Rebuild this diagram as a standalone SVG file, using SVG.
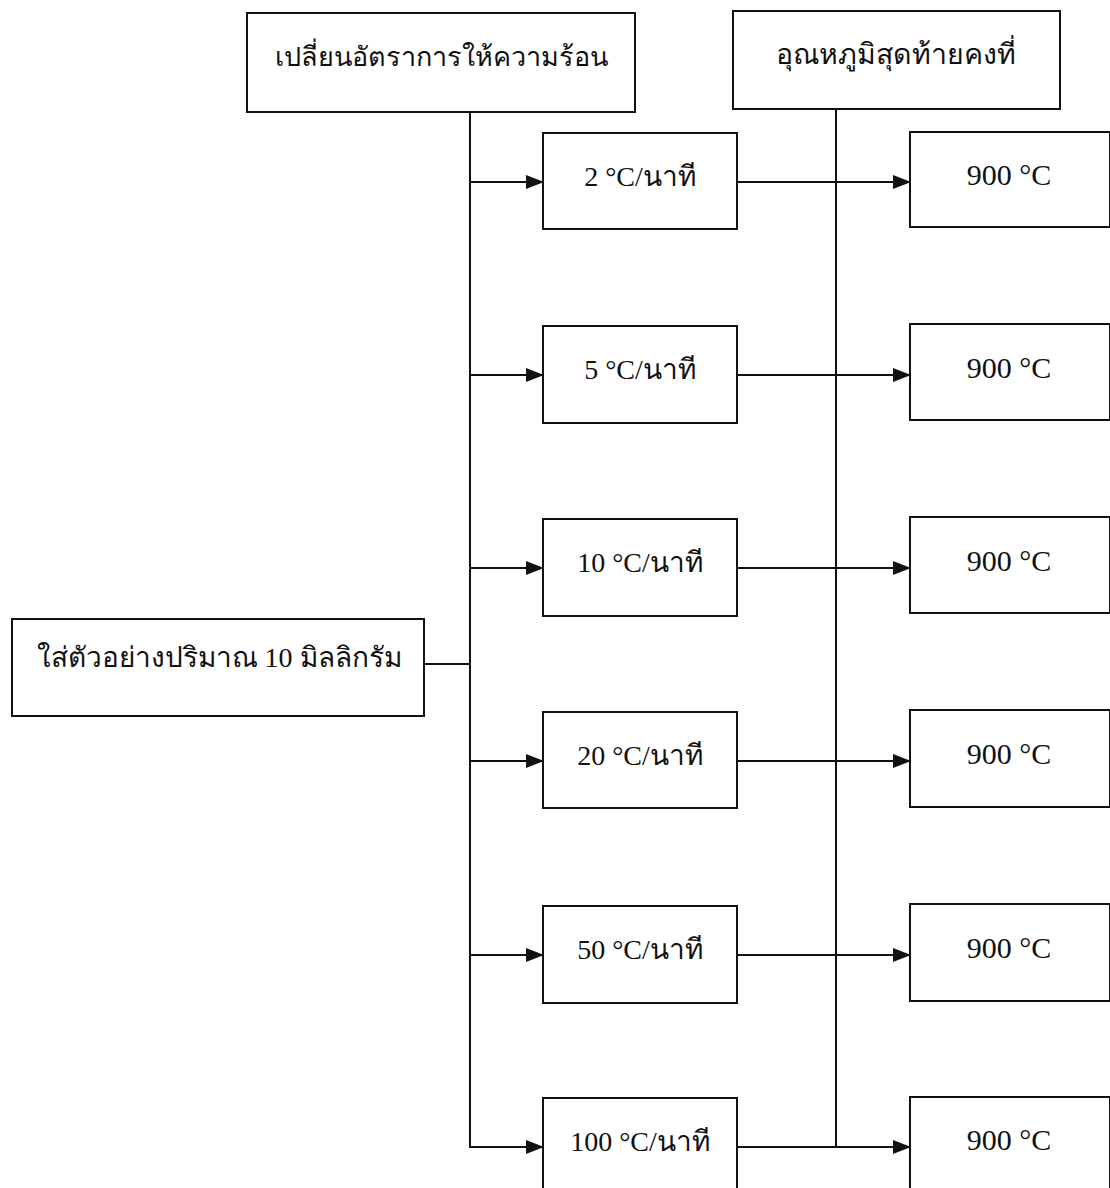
<svg xmlns="http://www.w3.org/2000/svg" width="1110" height="1188" viewBox="0 0 1110 1188">
<style>
.box{fill:#fff;stroke:#111;stroke-width:2}
.ln{fill:none;stroke:#111;stroke-width:2}
.t{font-family:"Liberation Serif","Noto Sans",serif;font-size:28px;fill:#111;text-anchor:middle}
.th{font-size:28px}
</style>
<defs>
<marker id="ah" markerWidth="18" markerHeight="14" refX="17" refY="7" orient="auto" markerUnits="userSpaceOnUse">
<path d="M0,0 L18,7 L0,14 Z" fill="#111"/>
</marker>
</defs>
<rect width="1110" height="1188" fill="#fff"/>
<g id="connectors">
<path class="ln" d="M470,112 V1147 H543" marker-end="url(#ah)"/>
<path class="ln" d="M836,109 V1147"/>
<path class="ln" d="M424,664 H470"/>
<path class="ln" d="M470,182 H543" marker-end="url(#ah)"/>
<path class="ln" d="M470,375 H543" marker-end="url(#ah)"/>
<path class="ln" d="M470,568 H543" marker-end="url(#ah)"/>
<path class="ln" d="M470,761 H543" marker-end="url(#ah)"/>
<path class="ln" d="M470,955 H543" marker-end="url(#ah)"/>
<path class="ln" d="M737,182 H910" marker-end="url(#ah)"/>
<path class="ln" d="M737,375 H910" marker-end="url(#ah)"/>
<path class="ln" d="M737,568 H910" marker-end="url(#ah)"/>
<path class="ln" d="M737,761 H910" marker-end="url(#ah)"/>
<path class="ln" d="M737,955 H910" marker-end="url(#ah)"/>
<path class="ln" d="M737,1147 H910" marker-end="url(#ah)"/>
</g>
<g id="n-heat-rate">
<rect class="box" x="247" y="13" width="388" height="99"/>
<text class="t th" x="441" y="66" style="font-size:27px">เปลี่ยนอัตราการให้ความร้อน</text>
</g>
<g id="n-final-temp">
<rect class="box" x="733" y="11" width="327" height="98"/>
<text class="t th" x="896" y="64" style="font-size:28.5px">อุณหภูมิสุดท้ายคงที่</text>
</g>
<g id="n-sample">
<rect class="box" x="12" y="619" width="412" height="97"/>
<text class="t th" x="219" y="667">ใส่ตัวอย่างปริมาณ 10 มิลลิกรัม</text>
</g>
<g id="n-r2">
<rect class="box" x="543" y="133" width="194" height="96"/>
<text class="t" x="640" y="186">2 °C/นาที</text>
</g>
<g id="n-r5">
<rect class="box" x="543" y="326" width="194" height="97"/>
<text class="t" x="640" y="379">5 °C/นาที</text>
</g>
<g id="n-r10">
<rect class="box" x="543" y="519" width="194" height="97"/>
<text class="t" x="640" y="572">10 °C/นาที</text>
</g>
<g id="n-r20">
<rect class="box" x="543" y="712" width="194" height="96"/>
<text class="t" x="640" y="765">20 °C/นาที</text>
</g>
<g id="n-r50">
<rect class="box" x="543" y="906" width="194" height="97"/>
<text class="t" x="640" y="959">50 °C/นาที</text>
</g>
<g id="n-r100">
<rect class="box" x="543" y="1098" width="194" height="100"/>
<text class="t" x="640" y="1151">100 °C/นาที</text>
</g>
<g id="n-t1">
<rect class="box" x="910" y="132" width="200" height="95"/>
<text class="t" x="1009" y="185" style="font-size:30px">900 °C</text>
</g>
<g id="n-t2">
<rect class="box" x="910" y="324" width="200" height="96"/>
<text class="t" x="1009" y="378" style="font-size:30px">900 °C</text>
</g>
<g id="n-t3">
<rect class="box" x="910" y="517" width="200" height="96"/>
<text class="t" x="1009" y="571" style="font-size:30px">900 °C</text>
</g>
<g id="n-t4">
<rect class="box" x="910" y="710" width="200" height="97"/>
<text class="t" x="1009" y="764" style="font-size:30px">900 °C</text>
</g>
<g id="n-t5">
<rect class="box" x="910" y="904" width="200" height="97"/>
<text class="t" x="1009" y="958" style="font-size:30px">900 °C</text>
</g>
<g id="n-t6">
<rect class="box" x="910" y="1097" width="200" height="100"/>
<text class="t" x="1009" y="1150" style="font-size:30px">900 °C</text>
</g>
</svg>
